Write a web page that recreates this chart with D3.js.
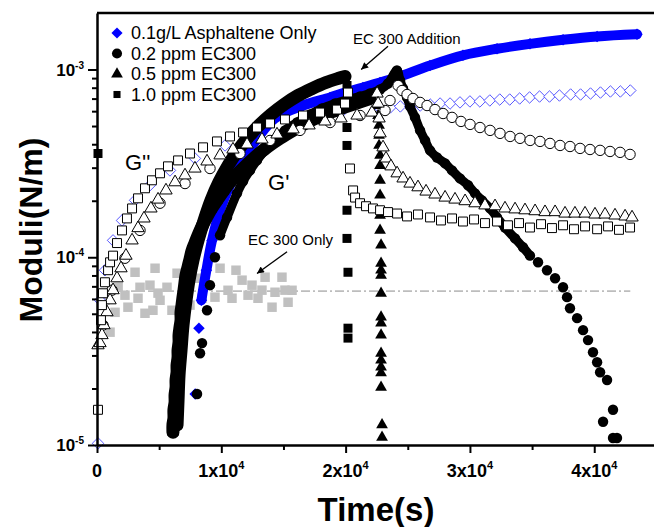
<!DOCTYPE html>
<html>
<head>
<meta charset="utf-8">
<script src="https://cdn.jsdelivr.net/npm/d3@7"></script>
<style>
  body { margin: 0; background: #fff; }
  svg { display: block; font-family: Arial, "Liberation Sans", sans-serif; }
</style>
</head>
<body>
<div id="chart"></div>
<script>
// ---- data: [time (s), modulus (N/m)] ----

// EC 300 only (grey squares) and its mean level
const ec300Only = [[640,5.9e-5],[1050,3.99e-5],[1450,5.09e-5],[1700,6.92e-5],[2250,6.28e-5],[2490,5.42e-5],[3060,8.32e-5],[3300,6.05e-5],[3460,6.92e-5],[3860,5.03e-5],[4260,7.1e-5],[4500,5.22e-5],[4670,8.74e-5],[4910,6.44e-5],[5070,5.9e-5],[5630,6.92e-5],[6030,5.22e-5],[6440,8.22e-5],[7080,6.68e-5],[7480,5.56e-5],[8130,7.73e-5],[8450,6.05e-5],[8930,7.1e-5],[9490,6.13e-5],[9900,8.74e-5],[10540,6.67e-5],[10860,6.05e-5],[11180,8.53e-5],[11670,7.55e-5],[12150,6.28e-5],[12470,7.1e-5],[12950,6.05e-5],[13270,6.68e-5],[13520,7.83e-5],[14080,5.42e-5],[14320,6.51e-5],[14880,7.83e-5],[15120,6.68e-5],[15370,5.76e-5],[15690,6.67e-5]]
const ec300Level = [[0,6.6e-5],[42900,6.6e-5]]

// 0.1 g/L asphaltene only
const asphG1 = [[7900,1.87e-5],[8200,4.19e-5],[8400,5.9e-5],[8800,8.53e-5],[9250,1.23e-4],[9900,1.78e-4],[10700,2.42e-4],[11700,3.28e-4],[12900,4.3e-4],[14300,5.49e-4],[16570,6.43e-4],[18750,7.1e-4],[19950,7.54e-4],[21400,8.02e-4],[22770,8.53e-4],[24140,9.07e-4],[26790,1.05e-3],[29440,1.19e-3],[32180,1.29e-3],[34830,1.37e-3],[37490,1.44e-3],[40230,1.5e-3],[43440,1.54e-3]]
const asphG2 = [[80,1.02e-5],[240,5.9e-5],[640,8.53e-5],[1290,1.23e-4],[2010,1.57e-4],[3060,2.01e-4],[4260,2.42e-4],[5870,2.9e-4],[7880,3.36e-4],[10300,3.94e-4],[13110,4.57e-4],[16330,5.22e-4],[19550,5.83e-4],[22800,6.2e-4],[23600,6.28e-4],[24400,6.36e-4],[25200,6.36e-4],[26000,6.43e-4],[26800,6.51e-4],[27600,6.59e-4],[28400,6.59e-4],[29200,6.68e-4],[30000,6.76e-4],[30800,6.76e-4],[31600,6.84e-4],[32400,6.92e-4],[33200,6.92e-4],[34000,7.01e-4],[34800,7.1e-4],[35600,7.18e-4],[36400,7.18e-4],[37200,7.27e-4],[38100,7.36e-4],[38900,7.36e-4],[39700,7.45e-4],[40500,7.54e-4],[41300,7.64e-4],[42100,7.64e-4],[42900,7.73e-4]]

// 0.2 ppm EC300
const c02G1 = [[8050,1.87e-5],[8290,3.08e-5],[8450,3.49e-5],[8850,5.22e-5],[9090,7.1e-5],[9490,1.0e-4],[9900,1.31e-4],[10460,1.63e-4],[11260,2.19e-4],[11750,2.54e-4],[12310,2.9e-4],[12870,3.28e-4],[13520,3.71e-4],[14320,4.19e-4],[15120,4.74e-4],[16090,5.22e-4],[17140,5.76e-4],[18100,6.2e-4],[19150,6.59e-4],[20190,6.92e-4],[21160,7.18e-4],[21960,7.45e-4],[22770,7.83e-4],[23410,8.42e-4],[24130,9.88e-4],[24380,8.74e-4],[24620,7.92e-4],[24940,7.1e-4],[25180,6.36e-4],[25580,5.56e-4],[25990,4.74e-4],[26390,4.19e-4],[26790,3.71e-4],[27350,3.4e-4],[28000,3.16e-4],[28560,2.9e-4],[29200,2.63e-4],[29850,2.42e-4],[30410,2.19e-4],[30970,2.01e-4],[31620,1.82e-4],[32180,1.63e-4],[32820,1.44e-4],[33630,1.26e-4],[34270,1.13e-4],[34830,1.02e-4],[35480,9.4e-5],[36200,8.53e-5],[36850,7.73e-5],[37490,6.92e-5],[37810,6.13e-5],[38050,5.35e-5],[38620,4.74e-5],[39100,4.09e-5],[39500,3.62e-5],[39900,3.12e-5],[40230,2.76e-5],[40470,2.44e-5],[41030,2.22e-5],[41510,1.54e-5],[40710,1.33e-5],[41510,1.09e-5],[41830,1.09e-5]]
const c02G2 = [[480,4.35e-5],[1210,6.68e-5],[2250,9.88e-5],[3460,1.39e-4],[5070,1.94e-4],[7080,2.47e-4],[9090,2.97e-4],[11500,3.57e-4],[13920,4.19e-4],[16330,4.74e-4],[18750,5.22e-4],[21160,5.69e-4],[23170,6.05e-4],[23570,6.84e-4],[24220,8.22e-4],[24540,7.73e-4],[24940,7.36e-4],[25420,7.01e-4],[25990,6.68e-4],[26550,6.43e-4],[27190,6.12e-4],[27840,5.83e-4],[28560,5.56e-4],[29280,5.29e-4],[30010,5.1e-4],[30810,4.91e-4],[31620,4.74e-4],[32420,4.57e-4],[33230,4.4e-4],[34030,4.3e-4],[34840,4.19e-4],[35640,4.14e-4],[36440,4.04e-4],[37250,3.94e-4],[38050,3.89e-4],[38860,3.8e-4],[39660,3.75e-4],[40470,3.71e-4],[41270,3.66e-4],[42080,3.62e-4],[42880,3.53e-4]]

// 0.5 ppm EC300
const c05G1 = [[6110,1.17e-5],[6110,1.28e-5],[6190,1.39e-5],[6190,1.54e-5],[6280,1.69e-5],[6280,1.85e-5],[6360,2.03e-5],[6360,2.22e-5],[6440,2.44e-5],[6440,2.66e-5],[6520,2.94e-5],[6520,3.2e-5],[6600,3.53e-5],[6600,3.85e-5],[6680,4.24e-5],[6760,4.62e-5],[6760,5.1e-5],[6840,5.56e-5],[6920,6.13e-5],[7000,6.68e-5],[7080,7.36e-5],[7160,8.02e-5],[7320,8.85e-5],[7480,9.76e-5],[7640,1.08e-4],[7880,1.19e-4],[8130,1.31e-4],[8450,1.46e-4],[8770,1.61e-4],[9170,1.8e-4],[9650,2.01e-4],[10140,2.24e-4],[10700,2.51e-4],[11340,2.8e-4],[12070,3.12e-4],[12870,3.49e-4],[13760,3.89e-4],[14720,4.3e-4],[15770,4.74e-4],[16890,5.22e-4],[18100,5.69e-4],[19390,6.12e-4],[20760,6.59e-4],[21960,7.01e-4],[22610,6.43e-4],[22610,5.69e-4],[22690,5.04e-4],[22690,4.46e-4],[22690,3.94e-4],[22770,3.49e-4],[22770,3.08e-4],[22770,2.57e-4],[22770,2.14e-4],[22770,1.67e-4],[22770,1.39e-4],[22850,1.16e-4],[22850,9.29e-5],[22850,8.53e-5],[22850,8.02e-5],[22850,6.43e-5],[22850,4.8e-5],[22850,4.46e-5],[22850,3.85e-5],[22850,3.08e-5],[22850,2.83e-5],[22850,2.6e-5],[22850,2.42e-5],[22850,2.03e-5],[22930,1.28e-5],[22930,1.1e-5]]
const c05G2 = [[80,3.4e-5],[240,3.49e-5],[400,3.85e-5],[560,4.35e-5],[800,5.1e-5],[1050,5.9e-5],[1290,6.68e-5],[1610,7.73e-5],[1930,8.74e-5],[2330,1.02e-4],[2820,1.23e-4],[3300,1.43e-4],[3780,1.61e-4],[4340,1.82e-4],[4910,2.03e-4],[5550,2.27e-4],[6280,2.51e-4],[7080,2.73e-4],[7880,2.97e-4],[8850,3.24e-4],[9900,3.49e-4],[10940,3.75e-4],[12070,3.99e-4],[13270,4.24e-4],[14480,4.51e-4],[15770,4.8e-4],[17060,5.04e-4],[18340,5.29e-4],[19630,5.49e-4],[20920,5.69e-4],[22120,5.9e-4],[22530,7.45e-4],[22610,6.59e-4],[22690,5.49e-4],[22770,4.57e-4],[23010,3.85e-4],[23250,3.36e-4],[23650,3.05e-4],[24140,2.8e-4],[24620,2.63e-4],[25180,2.47e-4],[25820,2.36e-4],[26470,2.24e-4],[27190,2.16e-4],[28000,2.08e-4],[28800,2.03e-4],[29610,1.99e-4],[30410,1.94e-4],[31210,1.89e-4],[32020,1.87e-4],[32820,1.82e-4],[33630,1.8e-4],[34430,1.78e-4],[35240,1.76e-4],[36040,1.74e-4],[36850,1.74e-4],[37650,1.71e-4],[38450,1.71e-4],[39260,1.71e-4],[40060,1.69e-4],[40870,1.69e-4],[41670,1.67e-4],[42480,1.65e-4],[43040,1.63e-4]]

// 1.0 ppm EC300
const c10G1 = [[80,3.57e-4],[6440,1.28e-5],[6520,1.73e-5],[6600,2.36e-5],[6760,3.2e-5],[6920,4.35e-5],[7160,5.9e-5],[7400,7.54e-5],[7720,9.64e-5],[8130,1.23e-4],[8610,1.57e-4],[9170,2.01e-4],[9810,2.51e-4],[10540,3.08e-4],[11340,3.71e-4],[12150,4.35e-4],[13030,5.04e-4],[14000,5.76e-4],[15040,6.51e-4],[16170,7.27e-4],[17300,7.92e-4],[18420,8.53e-4],[19390,8.96e-4],[19950,9.18e-4],[20110,8.22e-4],[20110,4.91e-4],[20110,3.94e-4],[20110,1.78e-4],[20110,1.26e-4],[20190,8.32e-5],[20190,4.19e-5],[20190,3.71e-5]]
const c10G2 = [[80,1.54e-5],[320,4.62e-5],[400,5.56e-5],[480,6.43e-5],[640,7.36e-5],[890,8.53e-5],[1050,9.4e-5],[1290,1.02e-4],[1610,1.19e-4],[2010,1.39e-4],[2410,1.61e-4],[2820,1.82e-4],[3300,2.06e-4],[3860,2.33e-4],[4420,2.57e-4],[5070,2.8e-4],[5710,3.05e-4],[6520,3.28e-4],[7480,3.57e-4],[8530,3.85e-4],[9650,4.14e-4],[10700,4.4e-4],[11750,4.62e-4],[12870,4.91e-4],[13920,5.16e-4],[15120,5.42e-4],[16570,5.69e-4],[17940,5.9e-4],[19310,6.12e-4],[19950,6.59e-4],[20190,7.54e-4],[20350,2.97e-4],[20600,2.27e-4],[20760,2.08e-4],[21160,1.94e-4],[21640,1.87e-4],[22200,1.82e-4],[22770,1.78e-4],[23410,1.74e-4],[24140,1.71e-4],[24940,1.65e-4],[25820,1.69e-4],[26790,1.63e-4],[27670,1.57e-4],[28560,1.61e-4],[29440,1.55e-4],[30330,1.59e-4],[31210,1.52e-4],[32180,1.55e-4],[33060,1.48e-4],[33950,1.52e-4],[34830,1.44e-4],[35720,1.5e-4],[36600,1.43e-4],[37490,1.48e-4],[38370,1.41e-4],[39260,1.46e-4],[40230,1.41e-4],[41110,1.46e-4],[41990,1.4e-4],[42880,1.44e-4]]

// ticks and labels
const xMajor = [0, 10000, 20000, 30000, 40000]
const xMinor = [5000, 15000, 25000, 35000]
const xBase = ["0", "1x10", "2x10", "3x10", "4x10"]
const xSup = ["", "4", "4", "4", "4"]
const yMajor = [1e-5, 1e-4, 1e-3]
const yBase = ["10", "10", "10"]
const ySup = ["-5", "-4", "-3"]
const legendLabels = ["0.1g/L Asphaltene Only", "0.2 ppm EC300", "0.5 ppm EC300", "1.0 ppm EC300"]

// ---- layout ----
const W = 654, H = 527
const svg = d3.select("#chart").append("svg").attr("width", W).attr("height", H)

const x = d3.scaleLinear().domain([0, 45000]).range([97, 656.4])
const y = d3.scaleLog().domain([1e-5, 2e-3]).range([445, 13])
const line = d3.line().x(d => x(d[0])).y(d => y(d[1])).curve(d3.curveCatmullRom)

const BLUE = "#0000ff"

// grey mean line of EC300 only
svg.append("path").datum(ec300Level)
  .attr("fill", "none").attr("stroke", "#bdbdbd").attr("stroke-width", 1.6)
  .attr("stroke-dasharray", "9,3,2,3").attr("d", line)

function drawSeries(data, o) {
  const g = svg.append("g")
  if (o.band) {
    g.append("path").datum(data.slice(o.band[0], o.band[1] + 1))
      .attr("fill", "none").attr("stroke", o.fill)
      .attr("stroke-width", o.bandW).attr("stroke-linejoin", "round").attr("stroke-linecap", "round")
      .attr("d", line)
  }
  g.selectAll("path.m").data(data).join("path").attr("class", "m")
    .attr("transform", d => `translate(${x(d[0])},${y(d[1])}) rotate(${o.rot || 0})`)
    .attr("d", d3.symbol().type(o.type).size(o.size))
    .attr("fill", o.fill).attr("stroke", o.stroke || "none").attr("stroke-width", o.sw || 0)
}

drawSeries(ec300Only, {type: d3.symbolSquare, size: 90, fill: "#c0c0c0"})
drawSeries(asphG2, {type: d3.symbolSquare, size: 66, rot: 45, fill: "#fff", stroke: "#3a3aff", sw: 0.8})
drawSeries(asphG1, {type: d3.symbolSquare, size: 66, rot: 45, fill: BLUE, band: [2, 22], bandW: 10})
drawSeries(c05G1, {type: d3.symbolTriangle, size: 60, fill: "#000", band: [0, 43], bandW: 13})
drawSeries(c10G1, {type: d3.symbolSquare, size: 81, fill: "#000", band: [1, 23], bandW: 13})
drawSeries(c02G1, {type: d3.symbolCircle, size: 85, fill: "#000", band: [6, 45], bandW: 9})
drawSeries(c02G2, {type: d3.symbolCircle, size: 85, fill: "#fff", stroke: "#000", sw: 1})
drawSeries(c05G2, {type: d3.symbolTriangle, size: 66, fill: "#fff", stroke: "#000", sw: 1})
drawSeries(c10G2, {type: d3.symbolSquare, size: 80, fill: "#fff", stroke: "#000", sw: 1})

// ---- axes ----
const axW = 2.5
svg.append("g").attr("transform", "translate(0,445)")
  .call(d3.axisBottom(x).tickValues(xMajor).tickSize(8).tickSizeOuter(0).tickFormat(""))
svg.append("g").attr("transform", "translate(0,445)")
  .call(d3.axisBottom(x).tickValues(xMinor).tickSize(5).tickSizeOuter(0).tickFormat(""))
  .select(".domain").remove()

const yMinor = []
yMajor.forEach(m => { for (let k = 2; k <= 9; k++) if (m * k < 2e-3) yMinor.push(m * k) })
svg.append("g").attr("transform", "translate(97,0)")
  .call(d3.axisLeft(y).tickValues(yMajor).tickSize(9).tickSizeOuter(0).tickFormat(""))
svg.append("g").attr("transform", "translate(97,0)")
  .call(d3.axisLeft(y).tickValues(yMinor).tickSize(5).tickSizeOuter(0).tickFormat(""))
  .select(".domain").remove()

svg.selectAll(".domain").attr("stroke-width", axW).attr("stroke", "#000")
svg.selectAll(".tick line").attr("stroke-width", 2).attr("stroke", "#000")

// top frame
svg.append("line").attr("x1", 97).attr("x2", W).attr("y1", 13).attr("y2", 13)
  .attr("stroke", "#000").attr("stroke-width", axW)

// tick labels
xMajor.forEach((v, i) => {
  const t = svg.append("text").attr("x", x(v)).attr("y", 477)
    .attr("text-anchor", "middle").attr("font-weight", "bold").attr("font-size", 18)
  t.append("tspan").text(xBase[i])
  if (xSup[i]) t.append("tspan").attr("dy", -8).attr("font-size", 11).text(xSup[i])
})
yMajor.forEach((v, i) => {
  const t = svg.append("text").attr("x", 84).attr("y", y(v) + 6)
    .attr("text-anchor", "end").attr("font-weight", "bold").attr("font-size", 17)
  t.append("tspan").text(yBase[i])
  t.append("tspan").attr("dy", -7).attr("font-size", 10).text(ySup[i])
})

// axis titles
svg.append("text").attr("x", 376).attr("y", 521).attr("text-anchor", "middle")
  .attr("font-weight", "bold").attr("font-size", 33).text("Time(s)")
svg.append("text").attr("transform", "translate(42,230) rotate(-90)").attr("text-anchor", "middle")
  .attr("font-weight", "bold").attr("font-size", 32).text("Moduli(N/m)")

// legend
const legSym = [
  {type: d3.symbolSquare, size: 62, rot: 45, fill: BLUE},
  {type: d3.symbolCircle, size: 80, fill: "#000"},
  {type: d3.symbolTriangle, size: 60, fill: "#000"},
  {type: d3.symbolSquare, size: 50, fill: "#000"}
]
legendLabels.forEach((lab, i) => {
  const cy = 33 + i * 20.5
  svg.append("path").attr("transform", `translate(117,${cy}) rotate(${legSym[i].rot || 0})`)
    .attr("d", d3.symbol().type(legSym[i].type).size(legSym[i].size)).attr("fill", legSym[i].fill)
  svg.append("text").attr("x", 131).attr("y", cy + 6).attr("font-size", 18).text(lab)
})

// annotations
svg.append("defs").append("marker").attr("id", "arr")
  .attr("viewBox", "0 0 10 10").attr("refX", 10).attr("refY", 5)
  .attr("markerWidth", 9).attr("markerHeight", 7).attr("markerUnits", "userSpaceOnUse")
  .attr("orient", "auto")
  .append("path").attr("d", "M0,0L10,5L0,10z").attr("fill", "#000")

function arrow(a, b) {
  svg.append("line").attr("x1", x(a[0])).attr("y1", y(a[1])).attr("x2", x(b[0])).attr("y2", y(b[1]))
    .attr("stroke", "#000").attr("stroke-width", 1.3).attr("marker-end", "url(#arr)")
}
svg.append("text").attr("x", x(20600)).attr("y", y(1.43e-3) + 4).attr("font-size", 15).text("EC 300 Addition")
arrow([23410, 1.33e-3], [21250, 1.0e-3])
svg.append("text").attr("x", x(12150)).attr("y", y(1.16e-4)).attr("font-size", 15).text("EC 300 Only")
arrow([15290, 1.07e-4], [12870, 8.2e-5])
svg.append("text").attr("x", x(2250)).attr("y", y(2.9e-4)).attr("font-size", 22).text("G''")
svg.append("text").attr("x", x(13760)).attr("y", y(2.27e-4)).attr("font-size", 22).text("G'")
</script>
</body>
</html>
